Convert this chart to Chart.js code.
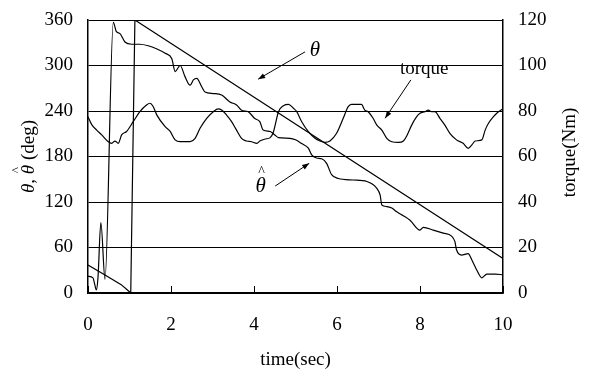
<!DOCTYPE html>
<html>
<head>
<meta charset="utf-8">
<script src="https://cdn.jsdelivr.net/npm/chart.js@4.4.1/dist/chart.umd.min.js"></script>
<style>
  html, body { margin: 0; padding: 0; background: #fff; }
  #wrap { width: 590px; height: 371px; }
</style>
</head>
<body>
<div id="wrap"><canvas id="chart" width="590" height="371"></canvas></div>
<script>
// true angle theta (deg) — wraps from 0 back to 360 near t = 1 s
const thetaTime = [0, 0.4, 0.8, 0.93, 1.03, 1.13, 10];
const thetaDeg = [37, 24, 11, 5, 0, 360, 45.5];

// estimated angle theta-hat (deg)
const hatTime = [0, 0.12, 0.16, 0.2, 0.24, 0.31, 0.41, 0.61, 0.68, 0.77, 0.89, 1.05, 1.25, 1.45, 1.65, 1.86,
  2.02, 2.1, 2.22, 2.34, 2.46, 2.54, 2.62, 2.74, 2.82, 3.02, 3.22, 3.42, 3.58, 3.7, 3.86, 4.02, 4.14, 4.22,
  4.39, 4.51, 4.59, 4.87, 5.0, 5.15, 5.31, 5.39, 5.51, 5.63, 5.75, 5.87, 6.03, 6.39, 6.72, 6.96, 7.04, 7.08,
  7.2, 7.32, 7.44, 7.56, 7.64, 7.76, 8.0, 8.08, 8.32, 8.56, 8.76, 8.84, 8.88, 9.0, 9.16, 9.25, 9.37, 9.49,
  9.61, 9.81, 10];
const hatDeg = [22, 20, 12, 4, 20, 93, 18, 357, 345, 342, 331, 328, 328, 326, 322, 316,
  309, 292, 300, 285, 274, 281, 283, 272, 265, 263, 261, 252, 248, 241, 239, 230, 226, 215,
  213, 208, 205, 204, 202, 197, 191, 182, 178, 177, 171, 156, 151, 149, 147, 138, 129, 116,
  114, 112, 107, 103, 100.6, 96, 83, 86.6, 83, 79, 75, 68, 57, 50, 52, 43.5, 30, 20,
  25, 25, 24];

// motor torque (Nm), right axis
const torqueTime = [0, 0.09, 0.21, 0.33, 0.49, 0.57, 0.65, 0.73, 0.81, 0.93, 1.09, 1.25, 1.41, 1.49, 1.57,
  1.66, 1.86, 1.98, 2.1, 2.22, 2.46, 2.58, 2.7, 2.86, 3.02, 3.14, 3.22, 3.34, 3.46, 3.58, 3.7, 3.82, 3.94,
  4.07, 4.14, 4.27, 4.39, 4.47, 4.51, 4.59, 4.71, 4.83, 4.95, 5.03, 5.15, 5.31, 5.47, 5.59, 5.71, 5.83,
  5.99, 6.15, 6.27, 6.35, 6.59, 6.67, 6.75, 6.87, 6.96, 7.08, 7.2, 7.32, 7.48, 7.6, 7.68, 7.8, 7.92, 8.0,
  8.12, 8.2, 8.28, 8.36, 8.48, 8.6, 8.72, 8.88, 9.04, 9.16, 9.25, 9.33, 9.49, 9.57, 9.65, 9.77, 9.89, 10];
const torqueNm = [77.5, 74, 71.6, 69.5, 66.5, 65.8, 66.8, 65.8, 69.5, 71, 75.3, 79.7, 82.6, 83.4, 82,
  78.2, 73.1, 71, 67.3, 66.5, 66.5, 68, 72.4, 76.8, 79.7, 80.9, 80.4, 78.2, 75.3, 71.6, 68, 66.8, 66.5,
  65.8, 66.8, 67.7, 68.3, 70.9, 73.8, 79.7, 82.3, 82.9, 81.2, 79.7, 75.3, 70.9, 68, 66.8, 66.2, 66.8,
  70.2, 76.8, 81.9, 82.9, 82.9, 80.4, 79.7, 76.8, 73.8, 71.6, 68, 66.5, 66.2, 66.8, 69, 73.8, 77.5, 79,
  79.7, 80.4, 79.7, 79.7, 76.8, 73.8, 70.2, 67.3, 65.8, 63.6, 65.1, 66.8, 67.3, 71.6, 74.6, 77.5, 79.7, 81];

// tick values
const timeTicks = [0, 2, 4, 6, 8, 10];
const degTicks = [0, 60, 120, 180, 240, 300, 360];
const torqueTicks = [0, 20, 40, 60, 80, 100, 120];

const FONT = "'Liberation Serif', 'Times New Roman', serif";
const toPoints = (xs, ys) => xs.map((x, i) => ({ x, y: ys[i] }));
const setTicks = (values) => (scale) => {
  scale.ticks = values.map((value) => ({ value }));
};
// fixed axis box sizes so the plot area lands where the original's does
const fixBox = (w, h) => (s) => {
  if (w != null) s.width = w;
  if (h != null) s.height = h;
  s.paddingTop = 0;
  s.paddingBottom = 0;
  s.paddingLeft = 0;
  s.paddingRight = 0;
};

// text labels with arrows, placed in data units (time, deg)
const notes = [
  { text: "θ", italic: true, at: [5.47, 320], from: [5.23, 318], to: [4.1, 282] },
  { text: "torque", italic: false, at: [8.1, 295], from: [7.78, 281], to: [7.16, 230.5] },
  { text: "θ", hat: true, italic: true, at: [4.16, 140], from: [4.51, 141], to: [5.33, 171] },
];

const drawArrow = (ctx, x1, y1, x2, y2) => {
  const ang = Math.atan2(y2 - y1, x2 - x1);
  ctx.beginPath();
  ctx.moveTo(x1, y1);
  ctx.lineTo(x2, y2);
  ctx.stroke();
  ctx.beginPath();
  ctx.moveTo(x2, y2);
  ctx.lineTo(x2 - 7 * Math.cos(ang) + 2.6 * Math.sin(ang), y2 - 7 * Math.sin(ang) - 2.6 * Math.cos(ang));
  ctx.lineTo(x2 - 7 * Math.cos(ang) - 2.6 * Math.sin(ang), y2 - 7 * Math.sin(ang) + 2.6 * Math.cos(ang));
  ctx.closePath();
  ctx.fill();
};

const decor = {
  id: "decor",
  afterDraw(chart) {
    const { ctx, chartArea: a, scales } = chart;
    const { x, y } = scales;
    ctx.save();
    ctx.strokeStyle = "#000";
    ctx.fillStyle = "#000";
    ctx.lineWidth = 1;

    // inward tick marks on the time axis
    timeTicks.forEach((v) => {
      const px = Math.round(x.getPixelForValue(v)) + 0.5;
      ctx.beginPath();
      ctx.moveTo(px, a.bottom);
      ctx.lineTo(px, a.bottom - 7);
      ctx.stroke();
    });

    // left axis title: θ, θ̂ (deg)
    const midY = (a.top + a.bottom) / 2;
    const it = "italic 19px " + FONT;
    const rg = "19px " + FONT;
    const parts = [["θ", it], [", ", rg], ["θ", it, true], [" (deg)", rg]];
    ctx.save();
    ctx.translate(29, midY);
    ctx.rotate(-Math.PI / 2);
    ctx.textBaseline = "middle";
    ctx.textAlign = "left";
    let total = 0;
    parts.forEach(([t, f]) => { ctx.font = f; total += ctx.measureText(t).width; });
    let cx = -total / 2;
    parts.forEach(([t, f, hat]) => {
      ctx.font = f;
      ctx.fillText(t, cx, 0);
      const w = ctx.measureText(t).width;
      if (hat) {
        ctx.font = "13px " + FONT;
        ctx.fillText("^", cx + 1, -12);
      }
      cx += w;
    });
    ctx.restore();

    // right axis title
    ctx.save();
    ctx.translate(570, midY - 4);
    ctx.rotate(-Math.PI / 2);
    ctx.font = rg;
    ctx.textAlign = "center";
    ctx.textBaseline = "middle";
    ctx.fillText("torque(Nm)", 0, 0);
    ctx.restore();

    // annotations
    notes.forEach((n) => {
      const px = x.getPixelForValue(n.at[0]);
      const py = y.getPixelForValue(n.at[1]);
      ctx.font = n.italic ? "italic 21px " + FONT : "19px " + FONT;
      ctx.textAlign = "center";
      ctx.textBaseline = "middle";
      ctx.fillText(n.text, px, py);
      if (n.hat) {
        ctx.font = "14px " + FONT;
        ctx.fillText("^", px + 1, py - 15);
      }
      ctx.lineWidth = 1;
      drawArrow(ctx,
        x.getPixelForValue(n.from[0]), y.getPixelForValue(n.from[1]),
        x.getPixelForValue(n.to[0]), y.getPixelForValue(n.to[1]));
    });
    ctx.restore();
  },
};

const lineStyle = {
  borderColor: "#000",
  borderWidth: 1.2,
  pointRadius: 0,
  fill: false,
};

new Chart(document.getElementById("chart"), {
  type: "line",
  data: {
    datasets: [
      { ...lineStyle, label: "θ", data: toPoints(thetaTime, thetaDeg), yAxisID: "y", tension: 0 },
      { ...lineStyle, label: "θ̂", data: toPoints(hatTime, hatDeg), yAxisID: "y", cubicInterpolationMode: "monotone" },
      { ...lineStyle, label: "torque", data: toPoints(torqueTime, torqueNm), yAxisID: "y1", cubicInterpolationMode: "monotone" },
    ],
  },
  options: {
    responsive: false,
    animation: false,
    events: [],
    layout: { padding: { top: 20, left: 0, right: 0, bottom: 0 } },
    plugins: { legend: { display: false }, tooltip: { enabled: false } },
    scales: {
      x: {
        type: "linear",
        min: 0,
        max: 10,
        afterBuildTicks: setTicks(timeTicks),
        afterFit: fixBox(null, 78),
        grid: { display: false, drawTicks: false },
        border: { display: true, color: "#000", width: 1.5 },
        ticks: { color: "#000", font: { family: FONT, size: 19 }, padding: 21, maxRotation: 0 },
        title: { display: true, text: "time(sec)", color: "#000", font: { family: FONT, size: 19 }, padding: 0 },
      },
      y: {
        position: "left",
        min: 0,
        max: 360,
        afterBuildTicks: setTicks(degTicks),
        afterFit: fixBox(88, null),
        grid: { color: "#000", lineWidth: 1, drawTicks: false },
        border: { display: true, color: "#000", width: 1.5 },
        ticks: { color: "#000", font: { family: FONT, size: 19 }, padding: 15 },
      },
      y1: {
        position: "right",
        min: 0,
        max: 120,
        afterBuildTicks: setTicks(torqueTicks),
        afterFit: fixBox(87, null),
        grid: { drawOnChartArea: false, drawTicks: false },
        border: { display: true, color: "#000", width: 1.5 },
        ticks: { color: "#000", font: { family: FONT, size: 19 }, padding: 15 },
      },
    },
  },
  plugins: [decor],
});
</script>
</body>
</html>
